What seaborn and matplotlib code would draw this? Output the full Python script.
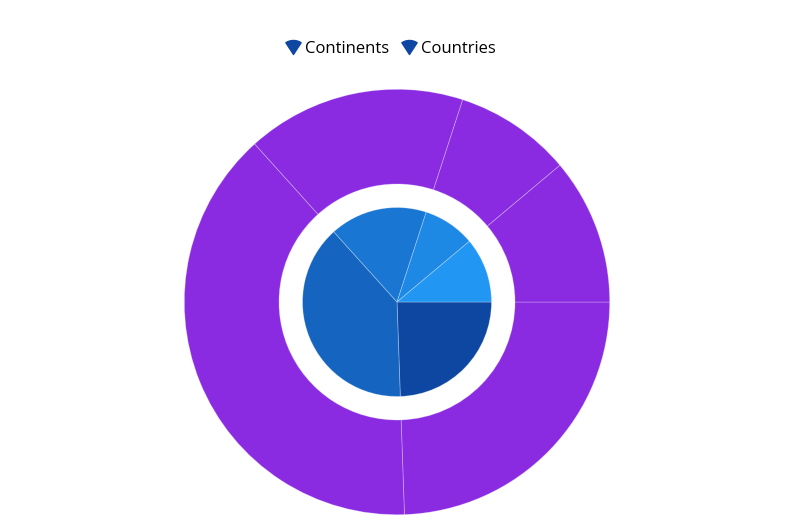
import numpy as np
import matplotlib
matplotlib.use("Agg")
import matplotlib.pyplot as plt
from matplotlib.path import Path
from matplotlib.lines import Line2D
import seaborn as sns

# data (share of the circle, clockwise from 3 o'clock)
continents = [22, 35, 15, 8, 10]
countries = [22, 35, 15, 8, 10]
series_names = ["Continents", "Countries"]

inner_colors = ["#0D47A1", "#1565C0", "#1976D2", "#1E88E5", "#2196F3"]
outer_color = "#8A2BE2"

sns.set_theme(style="white")
plt.rcParams['font.family'] = ['Open Sans', 'DejaVu Sans']
plt.rcParams['text.color'] = 'black'

W, H = 793, 532
fig = plt.figure(figsize=(W / 100, H / 100), dpi=100)

# pie axes placed so the centre sits at (397, 302) px with outer radius ~213 px
cx, cy, R = 397, 302, 212.7
ax = fig.add_axes([(cx - R) / W, (H - cy - R) / H, 2 * R / W, 2 * R / H])

edge = dict(edgecolor=(1, 1, 1, 0.3), linewidth=0.6)

# outer ring (Countries)
ax.pie(countries, radius=1.0, startangle=0, counterclock=False,
       colors=[outer_color] * len(countries),
       wedgeprops=dict(width=1 - 118 / R, **edge))

# inner pie (Continents)
ax.pie(continents, radius=94.5 / R, startangle=0, counterclock=False,
       colors=inner_colors, wedgeprops=edge)

ax.set_xlim(-1, 1)
ax.set_ylim(-1, 1)
ax.set_aspect("equal")
ax.axis("off")

# legend icon: small filled pie wedge pointing down
t = np.radians(np.linspace(57, 123, 20))
verts = [(0, -0.5)] + [(np.cos(a), np.sin(a) - 0.5) for a in t] + [(0, -0.5)]
codes = [Path.MOVETO] + [Path.LINETO] * (len(verts) - 2) + [Path.CLOSEPOLY]
wedge_marker = Path(verts, codes)
handles = [Line2D([], [], linestyle="none", marker=wedge_marker, markersize=11,
                  markerfacecolor="#0D47A1", markeredgecolor="#0D47A1")
           for _ in series_names]
fig.legend(handles, series_names, loc="center", bbox_to_anchor=(391 / W, 1 - 49 / H),
           ncol=2, frameon=False, fontsize=12, handlelength=0.8, handletextpad=0.3,
           columnspacing=0.8)

fig.savefig("out.png", dpi=100)
